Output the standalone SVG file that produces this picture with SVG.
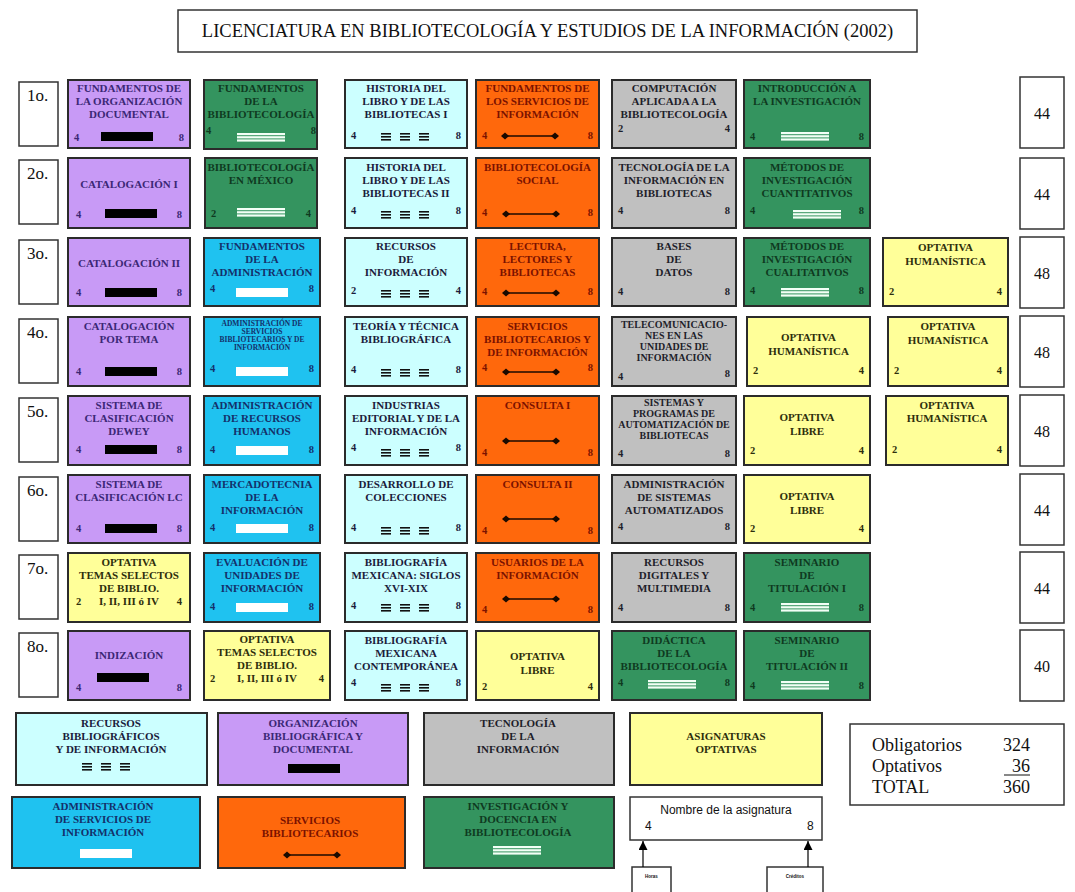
<svg xmlns="http://www.w3.org/2000/svg" xmlns:xlink="http://www.w3.org/1999/xlink" width="1075" height="892" viewBox="0 0 1075 892">
<style>
.b{stroke:#2b2b2b;stroke-width:2}
.o{fill:#fff;stroke:#333;stroke-width:1.5}
.pu{fill:#c89af6}.gr{fill:#34945f}.cy{fill:#ccffff}.or{fill:#ff680c}.gy{fill:#c0c0c0}.bl{fill:#1fc2f0}.ye{fill:#ffff99}
.tpu{fill:#3b2775}.tgr{fill:#0f3a1f}.tcy{fill:#1b1b3b}.tor{fill:#7b1200}.tgy{fill:#1e1e2a}.tbl{fill:#14306a}.tye{fill:#2e2e0c}
text{font-family:"Liberation Serif","Times New Roman",serif}
.t{font-weight:bold;font-size:11px;text-anchor:middle}
.s7{font-size:7.5px}.s9{font-size:10px}
.n{font-weight:bold;font-size:10.5px}
.e{text-anchor:end}
.big{font-size:17px;fill:#111}
.cr{font-size:16px;fill:#111;text-anchor:middle}
.tot{font-size:18px;fill:#111}
.sans{font-family:"Liberation Sans",Arial,sans-serif;fill:#111}
</style>
<defs>
<g id="bar"><rect x="-26" y="0" width="52" height="9" fill="#000"/></g>
<g id="wbar"><rect x="-26" y="0" width="52" height="9" fill="#fff"/></g>
<g id="gl"><rect x="-24" y="0" width="48" height="2.2" fill="#f2fff6"/><rect x="-24" y="3.2" width="48" height="2.2" fill="#f2fff6"/><rect x="-24" y="6.4" width="48" height="2.2" fill="#f2fff6"/></g>
<g id="eq1"><rect x="-5" y="0" width="10" height="1.6" fill="#111"/><rect x="-5" y="3" width="10" height="1.6" fill="#111"/><rect x="-5" y="6" width="10" height="1.6" fill="#111"/></g>
<g id="eq"><use xlink:href="#eq1" x="-19"/><use xlink:href="#eq1"/><use xlink:href="#eq1" x="19"/></g>
<g id="dl"><line x1="-25" y1="0" x2="25" y2="0" stroke="#1a0a00" stroke-width="1.4"/><path d="M-29,0 L-25,-3.5 L-21,0 L-25,3.5 Z" fill="#1a0a00"/><path d="M21,0 L25,-3.5 L29,0 L25,3.5 Z" fill="#1a0a00"/></g>
<marker id="ah" viewBox="0 0 10 10" refX="10" refY="5" markerUnits="userSpaceOnUse" markerWidth="9" markerHeight="9" orient="auto"><path d="M0,0 L10,5 L0,10 Z" fill="#000"/></marker>
</defs>
<rect width="1075" height="892" fill="#fff"/>

<g id="title">
<rect x="178" y="10" width="739" height="42" class="o"/>
<text x="547.5" y="37" font-size="18.5" fill="#111" text-anchor="middle">LICENCIATURA EN BIBLIOTECOLOGÍA Y ESTUDIOS DE LA INFORMACIÓN (2002)</text>
</g>

<g id="semesters">
<rect x="19" y="82" width="39" height="64" class="o"/><text x="27" y="101" class="big">1o.</text>
<rect x="19" y="160" width="39" height="64" class="o"/><text x="27" y="179" class="big">2o.</text>
<rect x="19" y="240" width="39" height="64" class="o"/><text x="27" y="259" class="big">3o.</text>
<rect x="19" y="319" width="39" height="64" class="o"/><text x="27" y="338" class="big">4o.</text>
<rect x="19" y="398" width="39" height="64" class="o"/><text x="27" y="417" class="big">5o.</text>
<rect x="19" y="477" width="39" height="64" class="o"/><text x="27" y="496" class="big">6o.</text>
<rect x="19" y="555" width="39" height="64" class="o"/><text x="27" y="574" class="big">7o.</text>
<rect x="19" y="633" width="39" height="64" class="o"/><text x="27" y="652" class="big">8o.</text>
</g>

<g id="credits">
<rect x="1020" y="77" width="44" height="71" class="o"/><text x="1042" y="119" class="cr">44</text>
<rect x="1020" y="158" width="44" height="71" class="o"/><text x="1042" y="200" class="cr">44</text>
<rect x="1020" y="237" width="44" height="71" class="o"/><text x="1042" y="279" class="cr">48</text>
<rect x="1020" y="316" width="44" height="71" class="o"/><text x="1042" y="358" class="cr">48</text>
<rect x="1020" y="395" width="44" height="71" class="o"/><text x="1042" y="437" class="cr">48</text>
<rect x="1020" y="474" width="44" height="71" class="o"/><text x="1042" y="516" class="cr">44</text>
<rect x="1020" y="552" width="44" height="71" class="o"/><text x="1042" y="594" class="cr">44</text>
<rect x="1020" y="630" width="44" height="71" class="o"/><text x="1042" y="672" class="cr">40</text>
</g>

<!-- ROW 1 -->
<g id="r1c1" class="tpu"><rect x="68" y="80" width="122" height="68" class="b pu"/>
<text class="t" x="129" y="92">FUNDAMENTOS DE</text><text class="t" x="129" y="105">LA ORGANIZACIÓN</text><text class="t" x="129" y="118">DOCUMENTAL</text>
<text class="n" x="74" y="141">4</text><text class="n e" x="184" y="141">8</text><use xlink:href="#bar" x="127" y="132"/></g>
<g id="r1c2" class="tgr"><rect x="204" y="80" width="113" height="69" class="b gr"/>
<text class="t" x="261" y="92">FUNDAMENTOS</text><text class="t" x="261" y="105">DE LA</text><text class="t" x="261" y="118">BIBLIOTECOLOGÍA</text>
<text class="n" x="206" y="134">4</text><text class="n e" x="316" y="134">8</text><use xlink:href="#gl" x="261" y="133"/></g>
<g id="r1c3" class="tcy"><rect x="345" y="80" width="122" height="68" class="b cy"/>
<text class="t" x="406" y="92">HISTORIA DEL</text><text class="t" x="406" y="105">LIBRO Y DE LAS</text><text class="t" x="406" y="118">BIBLIOTECAS I</text>
<text class="n" x="351" y="139">4</text><text class="n e" x="461" y="139">8</text><use xlink:href="#eq" x="405" y="133"/></g>
<g id="r1c4" class="tor"><rect x="476" y="80" width="123" height="68" class="b or"/>
<text class="t" x="537.5" y="92">FUNDAMENTOS DE</text><text class="t" x="537.5" y="105">LOS SERVICIOS DE</text><text class="t" x="537.5" y="118">INFORMACIÓN</text>
<text class="n" x="482" y="139">4</text><text class="n e" x="593" y="139">8</text><use xlink:href="#dl" x="530" y="136"/></g>
<g id="r1c5" class="tgy"><rect x="612" y="80" width="124" height="68" class="b gy"/>
<text class="t" x="674" y="92">COMPUTACIÓN</text><text class="t" x="674" y="105">APLICADA A LA</text><text class="t" x="674" y="118">BIBLIOTECOLOGÍA</text>
<text class="n" x="618" y="132">2</text><text class="n e" x="730" y="132">4</text></g>
<g id="r1c6" class="tgr"><rect x="744" y="80" width="126" height="68" class="b gr"/>
<text class="t" x="807" y="92">INTRODUCCIÓN A</text><text class="t" x="807" y="105">LA INVESTIGACIÓN</text>
<text class="n" x="750" y="140">4</text><text class="n e" x="864" y="140">8</text><use xlink:href="#gl" x="805" y="132"/></g>

<!-- ROW 2 -->
<g id="r2c1" class="tpu"><rect x="68" y="158" width="122" height="70" class="b pu"/>
<text class="t" x="129" y="188">CATALOGACIÓN I</text>
<text class="n" x="76" y="218">4</text><text class="n e" x="182" y="218">8</text><use xlink:href="#bar" x="131" y="209"/></g>
<g id="r2c2" class="tgr"><rect x="205" y="158" width="112" height="70" class="b gr"/>
<text class="t" x="261" y="171">BIBLIOTECOLOGÍA</text><text class="t" x="261" y="184">EN MÉXICO</text>
<text class="n" x="211" y="217">2</text><text class="n e" x="311" y="217">4</text><use xlink:href="#gl" x="261" y="208"/></g>
<g id="r2c3" class="tcy"><rect x="345" y="158" width="122" height="70" class="b cy"/>
<text class="t" x="406" y="171">HISTORIA DEL</text><text class="t" x="406" y="184">LIBRO Y DE LAS</text><text class="t" x="406" y="197">BIBLIOTECAS II</text>
<text class="n" x="351" y="214">4</text><text class="n e" x="461" y="214">8</text><use xlink:href="#eq" x="405" y="211"/></g>
<g id="r2c4" class="tor"><rect x="476" y="158" width="123" height="70" class="b or"/>
<text class="t" x="537.5" y="171">BIBLIOTECOLOGÍA</text><text class="t" x="537.5" y="184">SOCIAL</text>
<text class="n" x="482" y="216">4</text><text class="n e" x="593" y="216">8</text><use xlink:href="#dl" x="531" y="214"/></g>
<g id="r2c5" class="tgy"><rect x="612" y="158" width="124" height="70" class="b gy"/>
<text class="t" x="674" y="171">TECNOLOGÍA DE LA</text><text class="t" x="674" y="184">INFORMACIÓN EN</text><text class="t" x="674" y="197">BIBLIOTECAS</text>
<text class="n" x="618" y="214">4</text><text class="n e" x="730" y="214">8</text></g>
<g id="r2c6" class="tgr"><rect x="744" y="158" width="126" height="70" class="b gr"/>
<text class="t" x="807" y="171">MÉTODOS DE</text><text class="t" x="807" y="184">INVESTIGACIÓN</text><text class="t" x="807" y="197">CUANTITATIVOS</text>
<text class="n" x="750" y="214">4</text><text class="n e" x="864" y="214">8</text><use xlink:href="#gl" x="817" y="210"/></g>

<!-- ROW 3 -->
<g id="r3c1" class="tpu"><rect x="68" y="238" width="122" height="68" class="b pu"/>
<text class="t" x="129" y="267">CATALOGACIÓN II</text>
<text class="n" x="76" y="296">4</text><text class="n e" x="182" y="296">8</text><use xlink:href="#bar" x="131" y="288"/></g>
<g id="r3c2" class="tbl"><rect x="204" y="238" width="116" height="68" class="b bl"/>
<text class="t" x="262" y="250">FUNDAMENTOS</text><text class="t" x="262" y="263">DE LA</text><text class="t" x="262" y="276">ADMINISTRACIÓN</text>
<text class="n" x="210" y="292">4</text><text class="n e" x="314" y="292">8</text><use xlink:href="#wbar" x="262" y="288"/></g>
<g id="r3c3" class="tcy"><rect x="345" y="238" width="122" height="68" class="b cy"/>
<text class="t" x="406" y="250">RECURSOS</text><text class="t" x="406" y="263">DE</text><text class="t" x="406" y="276">INFORMACIÓN</text>
<text class="n" x="351" y="294">2</text><text class="n e" x="461" y="294">4</text><use xlink:href="#eq" x="405" y="290"/></g>
<g id="r3c4" class="tor"><rect x="476" y="238" width="123" height="68" class="b or"/>
<text class="t" x="537.5" y="250">LECTURA,</text><text class="t" x="537.5" y="263">LECTORES Y</text><text class="t" x="537.5" y="276">BIBLIOTECAS</text>
<text class="n" x="482" y="295">4</text><text class="n e" x="593" y="295">8</text><use xlink:href="#dl" x="531" y="293"/></g>
<g id="r3c5" class="tgy"><rect x="612" y="238" width="124" height="68" class="b gy"/>
<text class="t" x="674" y="250">BASES</text><text class="t" x="674" y="263">DE</text><text class="t" x="674" y="276">DATOS</text>
<text class="n" x="618" y="295">4</text><text class="n e" x="730" y="295">8</text></g>
<g id="r3c6" class="tgr"><rect x="744" y="238" width="126" height="68" class="b gr"/>
<text class="t" x="807" y="250">MÉTODOS DE</text><text class="t" x="807" y="263">INVESTIGACIÓN</text><text class="t" x="807" y="276">CUALITATIVOS</text>
<text class="n" x="750" y="294">4</text><text class="n e" x="864" y="294">8</text><use xlink:href="#gl" x="805" y="288"/></g>
<g id="r3c7" class="tye"><rect x="883" y="238" width="125" height="68" class="b ye"/>
<text class="t" x="945.5" y="251">OPTATIVA</text><text class="t" x="945.5" y="265">HUMANÍSTICA</text>
<text class="n" x="889" y="295">2</text><text class="n e" x="1002" y="295">4</text></g>

<!-- ROW 4 -->
<g id="r4c1" class="tpu"><rect x="68" y="317" width="122" height="69" class="b pu"/>
<text class="t" x="129" y="330">CATALOGACIÓN</text><text class="t" x="129" y="343">POR  TEMA</text>
<text class="n" x="76" y="375">4</text><text class="n e" x="182" y="375">8</text><use xlink:href="#bar" x="131" y="367"/></g>
<g id="r4c2" class="tbl"><rect x="204" y="317" width="116" height="69" class="b bl"/>
<text class="t s7" x="262" y="326">ADMINISTRACIÓN DE</text><text class="t s7" x="262" y="334">SERVICIOS</text><text class="t s7" x="262" y="342">BIBLIOTECARIOS Y DE</text><text class="t s7" x="262" y="350">INFORMACIÓN</text>
<text class="n" x="210" y="372">4</text><text class="n e" x="314" y="372">8</text><use xlink:href="#wbar" x="262" y="367"/></g>
<g id="r4c3" class="tcy"><rect x="345" y="317" width="122" height="69" class="b cy"/>
<text class="t" x="406" y="330">TEORÍA Y TÉCNICA</text><text class="t" x="406" y="343">BIBLIOGRÁFICA</text>
<text class="n" x="351" y="373">4</text><text class="n e" x="461" y="373">8</text><use xlink:href="#eq" x="405" y="369"/></g>
<g id="r4c4" class="tor"><rect x="476" y="317" width="123" height="69" class="b or"/>
<text class="t" x="537.5" y="330">SERVICIOS</text><text class="t" x="537.5" y="343">BIBLIOTECARIOS Y</text><text class="t" x="537.5" y="356">DE INFORMACIÓN</text>
<text class="n" x="482" y="371">4</text><text class="n e" x="593" y="371">8</text><use xlink:href="#dl" x="531" y="372"/></g>
<g id="r4c5" class="tgy"><rect x="612" y="317" width="124" height="69" class="b gy"/>
<text class="t s9" x="674" y="328">TELECOMUNICACIO-</text><text class="t s9" x="674" y="339">NES EN LAS</text><text class="t s9" x="674" y="350">UNIDADES DE</text><text class="t s9" x="674" y="361">INFORMACIÓN</text>
<text class="n" x="618" y="380">4</text><text class="n e" x="730" y="377">8</text></g>
<g id="r4c6" class="tye"><rect x="747" y="317" width="123" height="69" class="b ye"/>
<text class="t" x="808.5" y="341">OPTATIVA</text><text class="t" x="808.5" y="355">HUMANÍSTICA</text>
<text class="n" x="753" y="374">2</text><text class="n e" x="864" y="374">4</text></g>
<g id="r4c7" class="tye"><rect x="888" y="317" width="120" height="69" class="b ye"/>
<text class="t" x="948" y="330">OPTATIVA</text><text class="t" x="948" y="344">HUMANÍSTICA</text>
<text class="n" x="894" y="374">2</text><text class="n e" x="1002" y="374">4</text></g>

<!-- ROW 5 -->
<g id="r5c1" class="tpu"><rect x="68" y="396" width="122" height="69" class="b pu"/>
<text class="t" x="129" y="409">SISTEMA DE</text><text class="t" x="129" y="422">CLASIFICACIÓN</text><text class="t" x="129" y="435">DEWEY</text>
<text class="n" x="76" y="453">4</text><text class="n e" x="182" y="453">8</text><use xlink:href="#bar" x="131" y="445"/></g>
<g id="r5c2" class="tbl"><rect x="204" y="396" width="116" height="69" class="b bl"/>
<text class="t" x="262" y="409">ADMINISTRACIÓN</text><text class="t" x="262" y="422">DE RECURSOS</text><text class="t" x="262" y="435">HUMANOS</text>
<text class="n" x="210" y="453">4</text><text class="n e" x="314" y="453">8</text><use xlink:href="#wbar" x="262" y="446"/></g>
<g id="r5c3" class="tcy"><rect x="345" y="396" width="122" height="69" class="b cy"/>
<text class="t" x="406" y="409">INDUSTRIAS</text><text class="t" x="406" y="422">EDITORIAL Y DE LA</text><text class="t" x="406" y="435">INFORMACIÓN</text>
<text class="n" x="351" y="451">4</text><text class="n e" x="461" y="451">8</text><use xlink:href="#eq" x="405" y="449"/></g>
<g id="r5c4" class="tor"><rect x="476" y="396" width="123" height="69" class="b or"/>
<text class="t" x="537.5" y="409">CONSULTA I</text>
<text class="n" x="482" y="456">4</text><text class="n e" x="593" y="456">8</text><use xlink:href="#dl" x="531" y="441"/></g>
<g id="r5c5" class="tgy"><rect x="612" y="396" width="124" height="69" class="b gy"/>
<text class="t s9" x="674" y="406">SISTEMAS Y</text><text class="t s9" x="674" y="417">PROGRAMAS  DE</text><text class="t s9" x="674" y="428">AUTOMATIZACIÓN DE</text><text class="t s9" x="674" y="439">BIBLIOTECAS</text>
<text class="n" x="618" y="457">4</text><text class="n e" x="730" y="457">8</text></g>
<g id="r5c6" class="tye"><rect x="744" y="396" width="126" height="69" class="b ye"/>
<text class="t" x="807" y="421">OPTATIVA</text><text class="t" x="807" y="435">LIBRE</text>
<text class="n" x="750" y="454">2</text><text class="n e" x="864" y="454">4</text></g>
<g id="r5c7" class="tye"><rect x="886" y="396" width="122" height="69" class="b ye"/>
<text class="t" x="947" y="409">OPTATIVA</text><text class="t" x="947" y="422">HUMANÍSTICA</text>
<text class="n" x="892" y="453">2</text><text class="n e" x="1002" y="453">4</text></g>

<!-- ROW 6 -->
<g id="r6c1" class="tpu"><rect x="68" y="475" width="122" height="68" class="b pu"/>
<text class="t" x="129" y="488">SISTEMA DE</text><text class="t" x="129" y="501">CLASIFICACIÓN LC</text>
<text class="n" x="76" y="532">4</text><text class="n e" x="182" y="532">8</text><use xlink:href="#bar" x="131" y="524"/></g>
<g id="r6c2" class="tbl"><rect x="204" y="475" width="116" height="68" class="b bl"/>
<text class="t" x="262" y="488">MERCADOTECNIA</text><text class="t" x="262" y="501">DE LA</text><text class="t" x="262" y="514">INFORMACIÓN</text>
<text class="n" x="210" y="531">4</text><text class="n e" x="314" y="531">8</text><use xlink:href="#wbar" x="262" y="524"/></g>
<g id="r6c3" class="tcy"><rect x="345" y="475" width="122" height="68" class="b cy"/>
<text class="t" x="406" y="488">DESARROLLO DE</text><text class="t" x="406" y="501">COLECCIONES</text>
<text class="n" x="351" y="531">4</text><text class="n e" x="461" y="531">8</text><use xlink:href="#eq" x="405" y="527"/></g>
<g id="r6c4" class="tor"><rect x="476" y="475" width="123" height="68" class="b or"/>
<text class="t" x="537.5" y="488">CONSULTA II</text>
<text class="n" x="482" y="534">4</text><text class="n e" x="593" y="534">8</text><use xlink:href="#dl" x="531" y="519"/></g>
<g id="r6c5" class="tgy"><rect x="612" y="475" width="124" height="68" class="b gy"/>
<text class="t" x="674" y="488">ADMINISTRACIÓN</text><text class="t" x="674" y="501">DE SISTEMAS</text><text class="t" x="674" y="514">AUTOMATIZADOS</text>
<text class="n" x="618" y="530">4</text><text class="n e" x="730" y="530">8</text></g>
<g id="r6c6" class="tye"><rect x="744" y="475" width="126" height="68" class="b ye"/>
<text class="t" x="807" y="500">OPTATIVA</text><text class="t" x="807" y="514">LIBRE</text>
<text class="n" x="750" y="532">2</text><text class="n e" x="864" y="532">4</text></g>

<!-- ROW 7 -->
<g id="r7c1" class="tye"><rect x="68" y="553" width="122" height="69" class="b ye"/>
<text class="t" x="129" y="566">OPTATIVA</text><text class="t" x="129" y="579">TEMAS SELECTOS</text><text class="t" x="129" y="592">DE BIBLIO.</text>
<text class="t" x="129" y="605">I, II, III ó IV</text>
<text class="n" x="76" y="605">2</text><text class="n e" x="182" y="605">4</text></g>
<g id="r7c2" class="tbl"><rect x="204" y="553" width="116" height="69" class="b bl"/>
<text class="t" x="262" y="566">EVALUACIÓN DE</text><text class="t" x="262" y="579">UNIDADES DE</text><text class="t" x="262" y="592">INFORMACIÓN</text>
<text class="n" x="210" y="610">4</text><text class="n e" x="314" y="610">8</text><use xlink:href="#wbar" x="262" y="603"/></g>
<g id="r7c3" class="tcy"><rect x="345" y="553" width="122" height="69" class="b cy"/>
<text class="t" x="406" y="566">BIBLIOGRAFÍA</text><text class="t" x="406" y="579">MEXICANA: SIGLOS</text><text class="t" x="406" y="592">XVI-XIX</text>
<text class="n" x="351" y="609">4</text><text class="n e" x="461" y="609">8</text><use xlink:href="#eq" x="405" y="604"/></g>
<g id="r7c4" class="tor"><rect x="476" y="553" width="123" height="69" class="b or"/>
<text class="t" x="537.5" y="566">USUARIOS DE LA</text><text class="t" x="537.5" y="579">INFORMACIÓN</text>
<text class="n" x="482" y="613">4</text><text class="n e" x="593" y="613">8</text><use xlink:href="#dl" x="531" y="599"/></g>
<g id="r7c5" class="tgy"><rect x="612" y="553" width="124" height="69" class="b gy"/>
<text class="t" x="674" y="566">RECURSOS</text><text class="t" x="674" y="579">DIGITALES Y</text><text class="t" x="674" y="592">MULTIMEDIA</text>
<text class="n" x="618" y="611">4</text><text class="n e" x="730" y="611">8</text></g>
<g id="r7c6" class="tgr"><rect x="744" y="553" width="126" height="69" class="b gr"/>
<text class="t" x="807" y="566">SEMINARIO</text><text class="t" x="807" y="579">DE</text><text class="t" x="807" y="592">TITULACIÓN  I</text>
<text class="n" x="750" y="611">4</text><text class="n e" x="864" y="611">8</text><use xlink:href="#gl" x="805" y="603"/></g>

<!-- ROW 8 -->
<g id="r8c1" class="tpu"><rect x="68" y="631" width="122" height="69" class="b pu"/>
<text class="t" x="129" y="659">INDIZACIÓN</text>
<text class="n" x="76" y="691">4</text><text class="n e" x="182" y="691">8</text><use xlink:href="#bar" x="123" y="673"/></g>
<g id="r8c2" class="tye"><rect x="204" y="631" width="126" height="69" class="b ye"/>
<text class="t" x="267" y="643">OPTATIVA</text><text class="t" x="267" y="656">TEMAS SELECTOS</text><text class="t" x="267" y="669">DE BIBLIO.</text>
<text class="t" x="267" y="682">I, II, III ó IV</text>
<text class="n" x="210" y="682">2</text><text class="n e" x="324" y="682">4</text></g>
<g id="r8c3" class="tcy"><rect x="345" y="631" width="122" height="69" class="b cy"/>
<text class="t" x="406" y="644">BIBLIOGRAFÍA</text><text class="t" x="406" y="657">MEXICANA</text><text class="t" x="406" y="670">CONTEMPORÁNEA</text>
<text class="n" x="351" y="686">4</text><text class="n e" x="461" y="686">8</text><use xlink:href="#eq" x="405" y="684"/></g>
<g id="r8c4" class="tye"><rect x="476" y="631" width="123" height="69" class="b ye"/>
<text class="t" x="537.5" y="660">OPTATIVA</text><text class="t" x="537.5" y="674">LIBRE</text>
<text class="n" x="482" y="690">2</text><text class="n e" x="593" y="690">4</text></g>
<g id="r8c5" class="tgr"><rect x="612" y="631" width="124" height="69" class="b gr"/>
<text class="t" x="674" y="644">DIDÁCTICA</text><text class="t" x="674" y="657">DE LA</text><text class="t" x="674" y="670">BIBLIOTECOLOGÍA</text>
<text class="n" x="618" y="686">4</text><text class="n e" x="730" y="686">8</text><use xlink:href="#gl" x="672" y="680"/></g>
<g id="r8c6" class="tgr"><rect x="744" y="631" width="126" height="69" class="b gr"/>
<text class="t" x="807" y="644">SEMINARIO</text><text class="t" x="807" y="657">DE</text><text class="t" x="807" y="670">TITULACIÓN  II</text>
<text class="n" x="750" y="689">4</text><text class="n e" x="864" y="689">8</text><use xlink:href="#gl" x="805" y="681"/></g>

<!-- LEGEND -->
<g id="leg1" class="tcy"><rect x="16" y="713" width="191" height="72" class="b cy"/>
<text class="t" x="111" y="727">RECURSOS</text><text class="t" x="111" y="740">BIBLIOGRÁFICOS</text><text class="t" x="111" y="753">Y DE INFORMACIÓN</text>
<use xlink:href="#eq" x="106" y="763"/></g>
<g id="leg2" class="tpu"><rect x="218" y="713" width="190" height="72" class="b pu"/>
<text class="t" x="313" y="727">ORGANIZACIÓN</text><text class="t" x="313" y="740">BIBLIOGRÁFICA Y</text><text class="t" x="313" y="753">DOCUMENTAL</text>
<use xlink:href="#bar" x="314" y="764"/></g>
<g id="leg3" class="tgy"><rect x="424" y="713" width="190" height="72" class="b gy"/>
<text class="t" x="518" y="727">TECNOLOGÍA</text><text class="t" x="518" y="740">DE LA</text><text class="t" x="518" y="753">INFORMACIÓN</text></g>
<g id="leg4" class="tye"><rect x="630" y="713" width="192" height="72" class="b ye"/>
<text class="t" x="726" y="740">ASIGNATURAS</text><text class="t" x="726" y="753">OPTATIVAS</text></g>
<g id="leg5" class="tbl"><rect x="12" y="797" width="188" height="71" class="b bl"/>
<text class="t" x="103" y="810">ADMINISTRACIÓN</text><text class="t" x="103" y="823">DE SERVICIOS DE</text><text class="t" x="103" y="836">INFORMACIÓN</text>
<use xlink:href="#wbar" x="106" y="849"/></g>
<g id="leg6" class="tor"><rect x="218" y="797" width="187" height="71" class="b or"/>
<text class="t" x="310" y="824">SERVICIOS</text><text class="t" x="310" y="837">BIBLIOTECARIOS</text>
<use xlink:href="#dl" x="312" y="855"/></g>
<g id="leg7" class="tgr"><rect x="424" y="797" width="190" height="71" class="b gr"/>
<text class="t" x="518" y="810">INVESTIGACIÓN Y</text><text class="t" x="518" y="823">DOCENCIA EN</text><text class="t" x="518" y="836">BIBLIOTECOLOGÍA</text>
<use xlink:href="#gl" x="517" y="846"/></g>

<g id="namebox">
<rect x="630" y="797" width="192" height="43" class="o"/>
<text class="sans" x="726" y="814" font-size="12" text-anchor="middle">Nombre de la asignatura</text>
<text class="sans" x="645" y="830" font-size="12">4</text>
<text class="sans" x="807" y="830" font-size="12">8</text>
</g>
<g id="horas"><rect x="632" y="867" width="39" height="30" class="o"/><text class="sans" x="651.5" y="878" font-size="4.5" font-weight="bold" text-anchor="middle">Horas</text></g>
<g id="creditos"><rect x="767" y="867" width="56" height="30" class="o"/><text class="sans" x="795" y="878" font-size="4.5" font-weight="bold" text-anchor="middle">Créditos</text></g>

<g id="connectors">
<line x1="643" y1="867" x2="643" y2="841" stroke="#000" stroke-width="1.2" marker-end="url(#ah)"/>
<line x1="808" y1="867" x2="808" y2="841" stroke="#000" stroke-width="1.2" marker-end="url(#ah)"/>
</g>

<g id="totals">
<rect x="850" y="724" width="214" height="81" class="o"/>
<text class="tot" x="872" y="751">Obligatorios</text><text class="tot" x="1003" y="751">324</text>
<text class="tot" x="872" y="772">Optativos</text><text class="tot" x="1012" y="772">36</text>
<line x1="1004" y1="775" x2="1030" y2="775" stroke="#111" stroke-width="1"/>
<text class="tot" x="872" y="793">TOTAL</text><text class="tot" x="1003" y="793">360</text>
</g>
</svg>
